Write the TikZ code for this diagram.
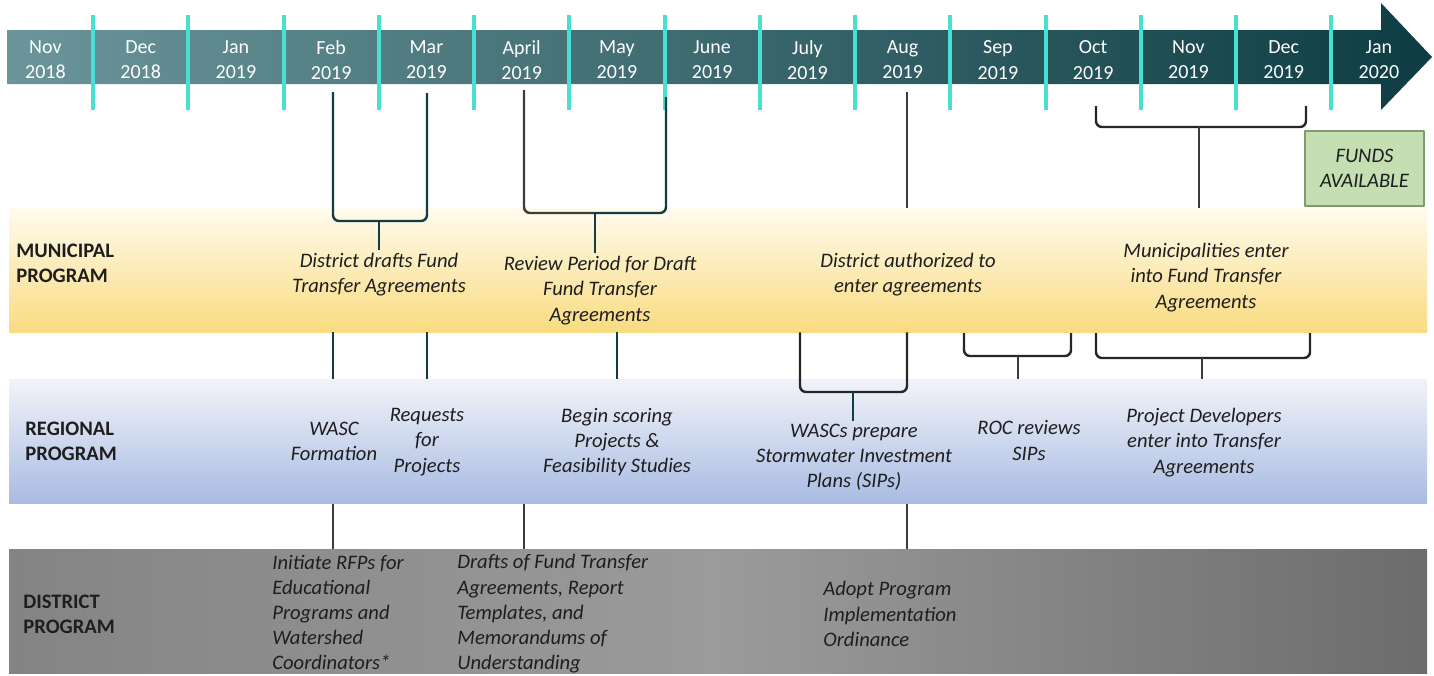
\documentclass[tikz,border=0pt]{standalone}
\usepackage{fontspec}
\setmainfont{Carlito}
\definecolor{tickc}{HTML}{48E0D2}
\definecolor{arrowL}{HTML}{6B959A}
\definecolor{arrowR}{HTML}{0D3D43}
\definecolor{tealdk}{HTML}{103E44}
\definecolor{linegray}{HTML}{3C3C3C}
\definecolor{munTop}{HTML}{FFFBEE}
\definecolor{munBot}{HTML}{F9DB80}
\definecolor{regTop}{HTML}{F1F3F9}
\definecolor{regBot}{HTML}{A9BBE2}
\definecolor{distL}{HTML}{848484}
\definecolor{distM}{HTML}{9B9B9B}
\definecolor{distR}{HTML}{6C6C6C}
\definecolor{fundsFill}{HTML}{C5DFB3}
\definecolor{fundsLine}{HTML}{7E9C6C}
\definecolor{ink}{HTML}{1E1E1E}
\tikzset{
 month/.style={text=white,align=center,inner sep=0pt,font=\fontsize{10}{12.6}\selectfont},
 band/.style={minimum width=709pt,minimum height=62pt,inner sep=0pt},
 lab/.style={font=\fontsize{10.3}{12.6}\selectfont\bfseries,align=left,anchor=west,inner sep=0pt,text=ink},
 note/.style={font=\fontsize{10.3}{12.6}\selectfont\itshape,align=center,inner sep=1.5pt,text=ink},
 notel/.style={note,align=left,anchor=west,inner sep=0pt},
 funds/.style={note,draw=fundsLine,fill=fundsFill,line width=0.8pt,minimum width=59.5pt,minimum height=37.5pt},
 tickline/.style={tickc,line width=2pt},
 tealline/.style={tealdk,line width=1.2pt},
 grayline/.style={linegray,line width=1.2pt},
 brace/.style={black!85,line width=1.2pt,rounded corners=3pt}
}
\begin{document}
\begin{tikzpicture}[x=0.5pt,y=-0.5pt,line join=round]
 \useasboundingbox (0,0) rectangle (1434,675);
 % timeline
 \shade[left color=arrowL,right color=arrowR] (7,30)--(1381,30)--(1381,3)--(1432,57)--(1381,110)--(1381,84)--(7,84)--cycle;
 \foreach \i in {0,...,13} \draw[tickline] ({93+95.25*\i},15)--({93+95.25*\i},110);
 \foreach \m/\yr [count=\i from 0] in {Nov/2018,Dec/2018,Jan/2019,Feb/2019,Mar/2019,April/2019,May/2019,June/2019,July/2019,Aug/2019,Sep/2019,Oct/2019,Nov/2019,Dec/2019,Jan/2020}
  \node[month] (m\i) at ({45.4+95.25*\i},60) {\m\\\yr};
 % program bands
 \node[band,top color=munTop,bottom color=munBot] (mun) at (718,270) {};
 \node[band,top color=regTop,bottom color=regBot] (reg) at (718,441.5) {};
 \node[band,left color=distL,right color=distR,middle color=distM] (dist) at (718,611) {};
 \node[lab] (munlab) at (16,263) {MUNICIPAL\\PROGRAM};
 \node[lab] (reglab) at (25,441.5) {REGIONAL\\PROGRAM};
 \node[lab] (distlab) at (23,614.5) {DISTRICT\\PROGRAM};
 \node[funds] (fundsbox) at (1364.5,168.5) {FUNDS\\AVAILABLE};
 % events
 \node[note] (drafts) at (379,274.5) {District drafts Fund\\Transfer Agreements};
 \node[note] (review) at (600,290.5) {Review Period for Draft\\Fund Transfer\\Agreements};
 \node[note] (authorized) at (908,274.5) {District authorized to\\enter agreements};
 \node[note] (municipalities) at (1206,277.5) {Municipalities enter\\into Fund Transfer\\Agreements};
 \node[note] (wasc) at (334,441.5) {WASC\\Formation};
 \node[note] (requests) at (427,442) {Requests\\for\\Projects};
 \node[note] (scoring) at (617,442) {Begin scoring\\Projects \&\\Feasibility Studies};
 \node[note] (wascs) at (854,457.5) {WASCs prepare\\Stormwater Investment\\Plans (SIPs)};
 \node[note] (roc) at (1029,440.5) {ROC reviews\\SIPs};
 \node[note] (developers) at (1204,442.5) {Project Developers\\enter into Transfer\\Agreements};
 \node[notel] (initiate) at (272,612.5) {Initiate RFPs for\\Educational\\Programs and\\Watershed\\Coordinators*};
 \node[notel] (templates) at (457,614) {Drafts of Fund Transfer\\Agreements, Report\\Templates, and\\Memorandums of\\Understanding};
 \node[notel] (adopt) at (823,614) {Adopt Program\\Implementation\\Ordinance};
 % connectors above the municipal band
 \coordinate (febT) at (333,92);
 \coordinate (marT) at (427,93);
 \coordinate (febmar) at (379,221);
 \coordinate (aprT) at (524,90);
 \coordinate (mayT) at (666,97);
 \coordinate (aprmay) at (595,213);
 \coordinate (augT) at (907,92);
 \coordinate (octT) at (1096,106);
 \coordinate (decT) at (1306,106);
 \coordinate (octdec) at (1199,127);
 \draw[tealline,rounded corners=3pt] (febT) |- (febmar) -| (marT);
 \draw[tealline] (febmar)--(drafts.north);
 \draw[grayline,rounded corners=3pt] (aprT) |- (aprmay);
 \draw[tealline,rounded corners=3pt] (aprmay) -| (mayT);
 \draw[tealline] (aprmay)--(aprmay |- review.north);
 \draw[grayline] (augT)--(augT |- mun.north);
 \draw[brace] (octT) |- (octdec) -| (decT);
 \draw[grayline] (octdec)--(octdec |- mun.north);
 % connectors between municipal and regional bands
 \coordinate (julX) at (800,0);
 \coordinate (wascsB) at (853,392);
 \coordinate (rocL) at (964,333);
 \coordinate (rocR) at (1071,333);
 \coordinate (rocB) at (1018,356);
 \coordinate (devL) at (1096,333);
 \coordinate (devR) at (1310,333);
 \coordinate (devB) at (1202,358);
 \draw[tealline] (mun.south -| febT)--(reg.north -| febT);
 \draw[tealline] (mun.south -| marT)--(reg.north -| marT);
 \draw[tealline] (mun.south -| scoring)--(reg.north -| scoring);
 \draw[brace] (mun.south -| julX) |- (wascsB) -| (mun.south -| augT);
 \draw[tealline] (wascsB)--(wascsB |- wascs.north);
 \draw[brace] (rocL) |- (rocB) -| (rocR);
 \draw[grayline] (rocB)--(rocB |- reg.north);
 \draw[brace] (devL) |- (devB) -| (devR);
 \draw[grayline] (devB)--(devB |- reg.north);
 % connectors between regional and district bands
 \draw[grayline] (reg.south -| febT)--(dist.north -| febT);
 \draw[grayline] (reg.south -| aprT)--(dist.north -| aprT);
 \draw[grayline] (reg.south -| augT)--(dist.north -| augT);
\end{tikzpicture}
\end{document}
